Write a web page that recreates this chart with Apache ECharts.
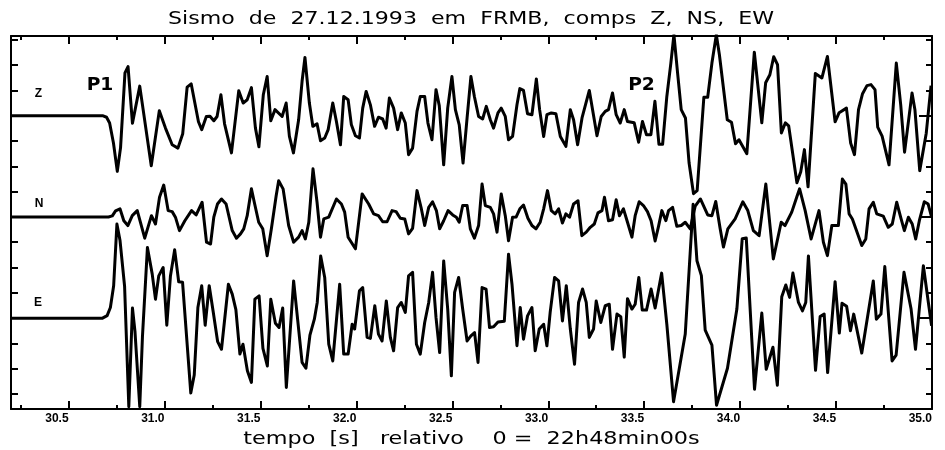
<!DOCTYPE html>
<html>
<head>
<meta charset="utf-8">
<script src="https://cdn.jsdelivr.net/npm/echarts@6/dist/echarts.min.js"></script>
<style>
  html, body { margin: 0; padding: 0; background: #fff; }
  #main { width: 945px; height: 450px; }
</style>
</head>
<body>
<div id="main"></div>
<script>
// seismogram traces: [time (s), amplitude relative to trace baseline]
const zTrace = [
  [30.2,0],[30.677,0],[30.698,-0.06],[30.714,-0.29],[30.734,-1.08],[30.754,-2.2],[30.771,-1.26],[30.794,1.69],[30.81,1.94],
  [30.833,-0.3],[30.871,1.17],[30.931,-1.98],[30.973,0.2],[31.005,-0.49],[31.04,-1.15],[31.07,-1.28],[31.095,-0.71],
  [31.118,1.13],[31.139,1.26],[31.177,-0.24],[31.194,-0.55],[31.218,-0.03],[31.237,-0.02],[31.257,-0.2],[31.274,-0.03],
  [31.294,0.83],[31.313,-0.32],[31.349,-1.47],[31.387,0.99],[31.41,0.5],[31.431,0.63],[31.453,1.11],[31.474,-0.49],
  [31.492,-1.23],[31.515,0.83],[31.535,1.55],[31.554,-0.2],[31.576,0.24],[31.613,-0.03],[31.634,0.5],[31.651,-0.82],
  [31.672,-1.47],[31.699,-0.16],[31.717,1.36],[31.732,2.3],[31.755,0.5],[31.773,-0.42],[31.795,-0.32],[31.813,-0.99],
  [31.835,-0.88],[31.853,-0.55],[31.877,0.5],[31.896,-0.23],[31.917,-1.15],[31.934,0.76],[31.957,0.63],[31.974,-0.36],
  [31.995,-0.79],[32.016,-0.88],[32.033,0.3],[32.051,0.96],[32.073,0.43],[32.095,-0.42],[32.115,-0.06],[32.137,-0.13],
  [32.155,-0.49],[32.172,0.7],[32.194,0.3],[32.215,-0.55],[32.234,0.11],[32.255,-0.29],[32.272,-1.54],[32.293,-1.28],
  [32.316,0.17],[32.333,0.76],[32.356,0.76],[32.373,-0.29],[32.394,-0.95],[32.415,1.03],[32.432,0.4],[32.455,-1.94],
  [32.476,0.3],[32.498,1.55],[32.516,0.24],[32.536,-0.36],[32.556,-1.87],[32.577,-0.09],[32.597,1.55],[32.615,0.76],
  [32.637,-0.03],[32.658,-0.13],[32.677,0.37],[32.698,-0.16],[32.715,-0.49],[32.738,0.11],[32.755,0.3],[32.776,-0.03],
  [32.793,-0.95],[32.814,-0.82],[32.837,0.43],[32.852,1.07],[32.871,1.0],[32.892,0.08],[32.915,0.04],[32.938,1.45],
  [32.955,0.24],[32.976,-0.82],[32.993,0.04],[33.016,0.11],[33.04,0.08],[33.063,-0.82],[33.092,-1.21],[33.115,0.24],
  [33.132,-0.16],[33.153,-1.15],[33.176,-0.09],[33.214,1.0],[33.254,-0.79],[33.276,-0.03],[33.297,0.17],[33.314,0.24],
  [33.335,0.9],[33.354,0.04],[33.375,-0.29],[33.396,0.24],[33.413,-0.23],[33.448,-0.28],[33.471,-1.05],[33.491,-0.23],
  [33.512,-0.75],[33.535,-0.75],[33.556,0.57],[33.577,-1.13],[33.596,-1.13],[33.618,0.76],[33.639,2.08],[33.655,3.2],
  [33.674,1.69],[33.693,0.24],[33.715,-0.09],[33.734,-1.87],[33.757,-3.08],[33.776,-2.96],[33.811,0.73],[33.831,0.73],
  [33.853,2.08],[33.876,3.2],[33.892,2.41],[33.933,-0.16],[33.955,-0.26],[33.976,-1.11],[33.994,-0.95],[34.035,-1.5],
  [34.074,2.51],[34.113,-0.28],[34.133,1.3],[34.155,1.62],[34.175,2.33],[34.195,2.02],[34.215,-0.68],[34.236,-0.28],
  [34.253,-0.4],[34.296,-2.65],[34.316,-2.21],[34.335,-1.34],[34.354,-2.81],[34.392,1.67],[34.426,1.49],[34.455,2.34],
  [34.495,-0.24],[34.516,0.12],[34.554,0.3],[34.576,-1.08],[34.596,-1.54],[34.617,0.24],[34.638,0.87],[34.661,1.19],
  [34.682,1.23],[34.703,1.03],[34.717,-0.45],[34.74,-0.81],[34.776,-1.94],[34.814,2.08],[34.837,0.43],[34.857,-1.44],
  [34.896,0.9],[34.911,0.24],[34.936,-2.17],[34.97,-0.69],[34.995,1.19]
]

const nTrace = [
  [30.2,0],[30.708,0],[30.728,0.04],[30.745,0.24],[30.768,0.32],[30.788,-0.15],[30.809,-0.34],[30.832,0.05],[30.858,0.25],
  [30.897,-0.84],[30.932,0.05],[30.953,-0.28],[30.974,0.78],[30.996,1.26],[31.019,0.25],[31.04,0.21],[31.057,-0.01],
  [31.078,-0.54],[31.106,-0.15],[31.141,0.25],[31.165,0.08],[31.196,0.58],[31.219,-1.0],[31.24,-1.07],[31.257,-0.01],
  [31.276,0.51],[31.297,0.71],[31.321,0.51],[31.353,-0.54],[31.375,-0.84],[31.396,-0.67],[31.413,-0.47],[31.431,0.05],
  [31.453,1.11],[31.47,0.51],[31.491,-0.21],[31.512,-0.47],[31.535,-1.53],[31.557,-0.47],[31.582,0.84],[31.595,1.43],
  [31.618,1.11],[31.647,-0.34],[31.673,-1.0],[31.699,-0.8],[31.717,-0.54],[31.734,-0.87],[31.752,-0.21],[31.774,1.9],
  [31.795,0.58],[31.813,-0.8],[31.83,-0.08],[31.856,-0.01],[31.896,0.71],[31.922,0.51],[31.939,0.19],[31.957,-0.8],
  [31.995,-1.26],[32.03,0.91],[32.064,0.51],[32.09,0.12],[32.115,0.05],[32.137,-0.19],[32.16,-0.19],[32.186,0.25],
  [32.207,0.21],[32.229,-0.05],[32.252,-0.08],[32.272,-0.67],[32.293,-0.45],[32.316,1.04],[32.337,0.38],[32.356,-0.34],
  [32.377,0.38],[32.397,0.6],[32.417,0.25],[32.434,-0.47],[32.455,-0.15],[32.478,0.25],[32.502,0.08],[32.521,-0.01],
  [32.536,-0.21],[32.554,0.45],[32.577,0.45],[32.594,-0.47],[32.615,-0.84],[32.637,-0.34],[32.655,1.3],[32.672,0.45],
  [32.698,0.38],[32.715,0.12],[32.733,-0.6],[32.755,0.91],[32.776,0.05],[32.793,-0.94],[32.814,-0.01],[32.833,0.0],
  [32.852,0.32],[32.871,0.47],[32.894,-0.05],[32.915,-0.34],[32.936,-0.47],[32.958,-0.21],[32.976,0.32],[32.996,1.04],
  [33.016,0.25],[33.036,0.12],[33.054,0.32],[33.074,-0.24],[33.092,0.12],[33.111,-0.01],[33.132,0.51],[33.155,0.64],
  [33.175,-0.74],[33.198,-0.6],[33.219,-0.41],[33.24,-0.28],[33.259,0.16],[33.28,0.25],[33.293,0.78],[33.314,-0.15],
  [33.335,-0.11],[33.354,0.68],[33.371,0.05],[33.392,0.32],[33.413,-0.21],[33.436,-0.8],[33.453,0.05],[33.474,0.6],
  [33.496,0.45],[33.517,0.21],[33.536,-0.15],[33.557,-0.95],[33.575,-0.36],[33.592,0.25],[33.613,-0.15],[33.627,0.25],
  [33.648,0.38],[33.67,-0.37],[33.693,-0.34],[33.714,-0.21],[33.74,-0.47],[33.766,0.43],[33.793,0.71],[33.831,0.08],
  [33.853,0.05],[33.873,0.61],[33.896,-0.47],[33.913,-1.19],[33.936,-0.47],[33.974,-0.08],[34.014,0.6],[34.04,0.25],
  [34.069,-0.54],[34.099,-0.74],[34.134,1.3],[34.173,-1.66],[34.214,-0.21],[34.234,-0.34],[34.269,0.19],[34.297,0.83],
  [34.31,1.11],[34.339,0.25],[34.37,-0.87],[34.411,0.25],[34.434,-1.0],[34.455,-1.53],[34.478,-0.34],[34.512,-0.34],
  [34.533,1.5],[34.551,1.3],[34.568,0.12],[34.585,-0.08],[34.634,-1.13],[34.655,-0.87],[34.672,0.32],[34.694,0.58],
  [34.712,0.12],[34.746,0.03],[34.772,-0.41],[34.793,-0.28],[34.816,0.58],[34.839,-0.08],[34.856,-0.54],[34.877,-0.01],
  [34.897,-0.28],[34.915,-0.87],[34.934,-0.15],[34.96,0.6],[34.98,0.51],[34.998,-0.01]
]

const eTrace = [
  [30.2,0],[30.677,0],[30.701,0.1],[30.718,0.42],[30.735,1.28],[30.752,3.72],[30.768,3.08],[30.792,1.26],[30.814,-3.5],
  [30.833,0.4],[30.846,-0.51],[30.871,-3.5],[30.885,-0.75],[30.911,2.79],[30.936,1.74],[30.953,0.75],[30.97,1.67],
  [30.993,2.0],[31.012,-0.28],[31.031,1.67],[31.053,2.7],[31.074,1.44],[31.094,1.42],[31.137,-2.96],[31.155,-2.25],
  [31.174,0.42],[31.194,1.28],[31.212,-0.28],[31.233,1.28],[31.254,0.24],[31.277,-0.93],[31.297,-1.23],[31.333,1.34],
  [31.353,0.95],[31.372,0.34],[31.393,-1.42],[31.409,-1.03],[31.432,-2.08],[31.453,-2.54],[31.471,0.75],[31.493,0.88],
  [31.513,-1.19],[31.536,-1.89],[31.554,0.75],[31.578,-0.2],[31.597,-0.37],[31.616,0.4],[31.635,-2.74],[31.673,1.47],
  [31.717,-1.75],[31.737,-1.98],[31.758,-0.67],[31.781,-0.04],[31.796,0.62],[31.814,2.46],[31.835,1.61],[31.856,-1.03],
  [31.877,-1.69],[31.913,1.34],[31.934,-1.42],[31.957,-1.42],[31.978,-0.24],[31.991,-0.43],[32.016,1.08],[32.033,1.21],
  [32.056,-0.76],[32.073,-0.8],[32.096,0.49],[32.115,-0.63],[32.134,-0.9],[32.156,0.68],[32.177,-0.76],[32.194,-1.29],
  [32.215,0.42],[32.234,0.62],[32.255,0.23],[32.272,1.67],[32.293,1.81],[32.313,-1.03],[32.333,-1.42],[32.356,-0.17],
  [32.377,0.62],[32.397,1.81],[32.415,0.03],[32.434,-1.36],[32.455,2.26],[32.476,0.36],[32.495,-2.28],[32.512,1.02],
  [32.533,1.61],[32.554,0.36],[32.577,-0.9],[32.597,-0.7],[32.616,-0.57],[32.634,-1.75],[32.655,1.21],[32.676,1.15],
  [32.694,-0.37],[32.715,-0.34],[32.738,-0.15],[32.771,-0.12],[32.793,2.53],[32.811,1.34],[32.837,-1.09],[32.854,0.42],
  [32.871,-0.83],[32.892,0.09],[32.915,0.42],[32.932,-1.29],[32.953,-0.43],[32.976,-0.24],[32.993,-1.09],[33.01,0.23],
  [33.033,1.61],[33.054,1.47],[33.074,-0.11],[33.094,1.28],[33.115,-0.43],[33.137,-1.82],[33.158,0.62],[33.179,1.15],
  [33.198,0.62],[33.214,-0.76],[33.236,-0.43],[33.25,0.68],[33.274,-0.17],[33.297,0.49],[33.318,0.55],[33.335,-1.23],
  [33.358,0.16],[33.378,0.06],[33.396,-1.54],[33.413,0.77],[33.436,0.36],[33.453,0.55],[33.472,1.61],[33.49,0.32],
  [33.512,0.32],[33.536,1.15],[33.557,0.4],[33.591,1.78],[33.618,-0.24],[33.653,-3.3],[33.714,-0.63],[33.737,2.25],
  [33.755,4.5],[33.775,2.27],[33.798,1.68],[33.818,-0.47],[33.853,-1.07],[33.877,-3.44],[33.934,-1.98],[33.983,0.36],
  [34.011,3.14],[34.032,3.17],[34.075,-2.81],[34.113,0.2],[34.136,-2.02],[34.171,-1.15],[34.194,-2.65],[34.217,0.85],
  [34.238,1.31],[34.258,0.82],[34.275,1.78],[34.304,0.62],[34.325,0.29],[34.342,0.62],[34.356,2.46],[34.393,-2.06],
  [34.417,0.06],[34.438,0.16],[34.456,-2.15],[34.495,1.44],[34.517,-0.59],[34.531,0.59],[34.555,0.47],[34.575,-0.5],
  [34.592,0.16],[34.634,-1.38],[34.694,1.47],[34.71,-0.04],[34.734,0.16],[34.754,2.04],[34.792,-1.69],[34.813,-1.46],
  [34.854,1.81],[34.891,0.36],[34.914,-1.23],[34.955,2.07],[34.981,0.62],[34.998,-0.3]
]

// trace baselines on the y scale
const zBase = 11
const nBase = 7
const eBase = 3

const labelTicks = [30.5, 31.0, 31.5, 32.0, 32.5, 33.0, 33.5, 34.0, 34.5, 35.0]
const quarterTicks = [30.25, 30.75, 31.25, 31.75, 32.25, 32.75, 33.25, 33.75, 34.25, 34.75]
const yTicks = [0, 1, 2, 3, 4, 5, 6, 7, 8, 9, 10, 11, 12, 13, 14]
const baseTicks = [eBase, nBase, zBase]

const X_MIN = 30.2
const X_MAX = 35.0
const Y_MIN = -0.59
const Y_MAX = 14.15

const shift = (trace, base) => trace.map(([t, a]) => [t, a + base])

const black = '#000'

function xAxis(position, ticks, len, opts = {}) {
  return {
    type: 'value',
    position,
    min: X_MIN,
    max: X_MAX,
    axisLine: { show: opts.line !== false, onZero: false, lineStyle: { color: black, width: 2 } },
    axisTick: { show: true, inside: true, length: len, customValues: ticks, lineStyle: { color: black, width: 2 } },
    axisLabel: opts.labels
      ? {
          show: true,
          customValues: ticks,
          formatter: (v) => v.toFixed(1),
          align: 'right',
          margin: 4,
          color: black,
          fontFamily: 'Liberation Sans',
          fontWeight: 'bold',
          fontSize: 12,
        }
      : { show: false },
    splitLine: { show: false },
  }
}

function yAxis(position, ticks, len, line = true) {
  return {
    type: 'value',
    position,
    min: Y_MIN,
    max: Y_MAX,
    axisLine: { show: line, onZero: false, lineStyle: { color: black, width: 2 } },
    axisTick: { show: true, inside: true, length: len, customValues: ticks, lineStyle: { color: black, width: 2 } },
    axisLabel: { show: false },
    splitLine: { show: false },
  }
}

function traceSeries(name, trace, base) {
  return {
    name,
    type: 'line',
    xAxisIndex: 0,
    yAxisIndex: 0,
    data: shift(trace, base),
    showSymbol: false,
    symbol: 'none',
    silent: true,
    clip: true,
    lineStyle: { color: black, width: 3, join: 'round' },
  }
}

function label(text, x, y, font, scaleX = 1) {
  return {
    type: 'text',
    x,
    y,
    scaleX,
    silent: true,
    style: { text, font, fill: black, align: 'center', verticalAlign: 'middle' },
  }
}

const chart = echarts.init(document.getElementById('main'), null, { renderer: 'canvas' })

chart.setOption({
  animation: false,
  backgroundColor: '#fff',
  grid: { left: 11, right: 13, top: 36, bottom: 41, outerBoundsMode: 'none' },
  xAxis: [
    xAxis('bottom', labelTicks, 8, { labels: true }),
    xAxis('bottom', quarterTicks, 4, { line: false }),
    xAxis('top', labelTicks, 8),
    xAxis('top', quarterTicks, 4, { line: false }),
  ],
  yAxis: [
    yAxis('left', yTicks, 7),
    yAxis('right', yTicks, 6),
    yAxis('right', baseTicks, 13, false),
  ],
  series: [
    traceSeries('Z', zTrace, zBase),
    traceSeries('N', nTrace, nBase),
    traceSeries('E', eTrace, eBase),
  ],
  graphic: [
    label('Sismo  de  27.12.1993  em  FRMB,  comps  Z,  NS,  EW', 471, 20, '17px "DejaVu Sans"', 1.3),
    label('tempo  [s]   relativo    0 =  22h48min00s', 471.5, 439, '18px "DejaVu Sans"', 1.24),
    label('Z', 38.5, 94, 'bold 12px "Liberation Sans"'),
    label('N', 39, 203.5, 'bold 12px "Liberation Sans"'),
    label('E', 38, 303, 'bold 12px "Liberation Sans"'),
    label('P1', 100, 86, 'bold 17px "DejaVu Sans"', 1.1),
    label('P2', 641.5, 86, 'bold 17px "DejaVu Sans"', 1.1),
  ],
})
</script>
</body>
</html>
